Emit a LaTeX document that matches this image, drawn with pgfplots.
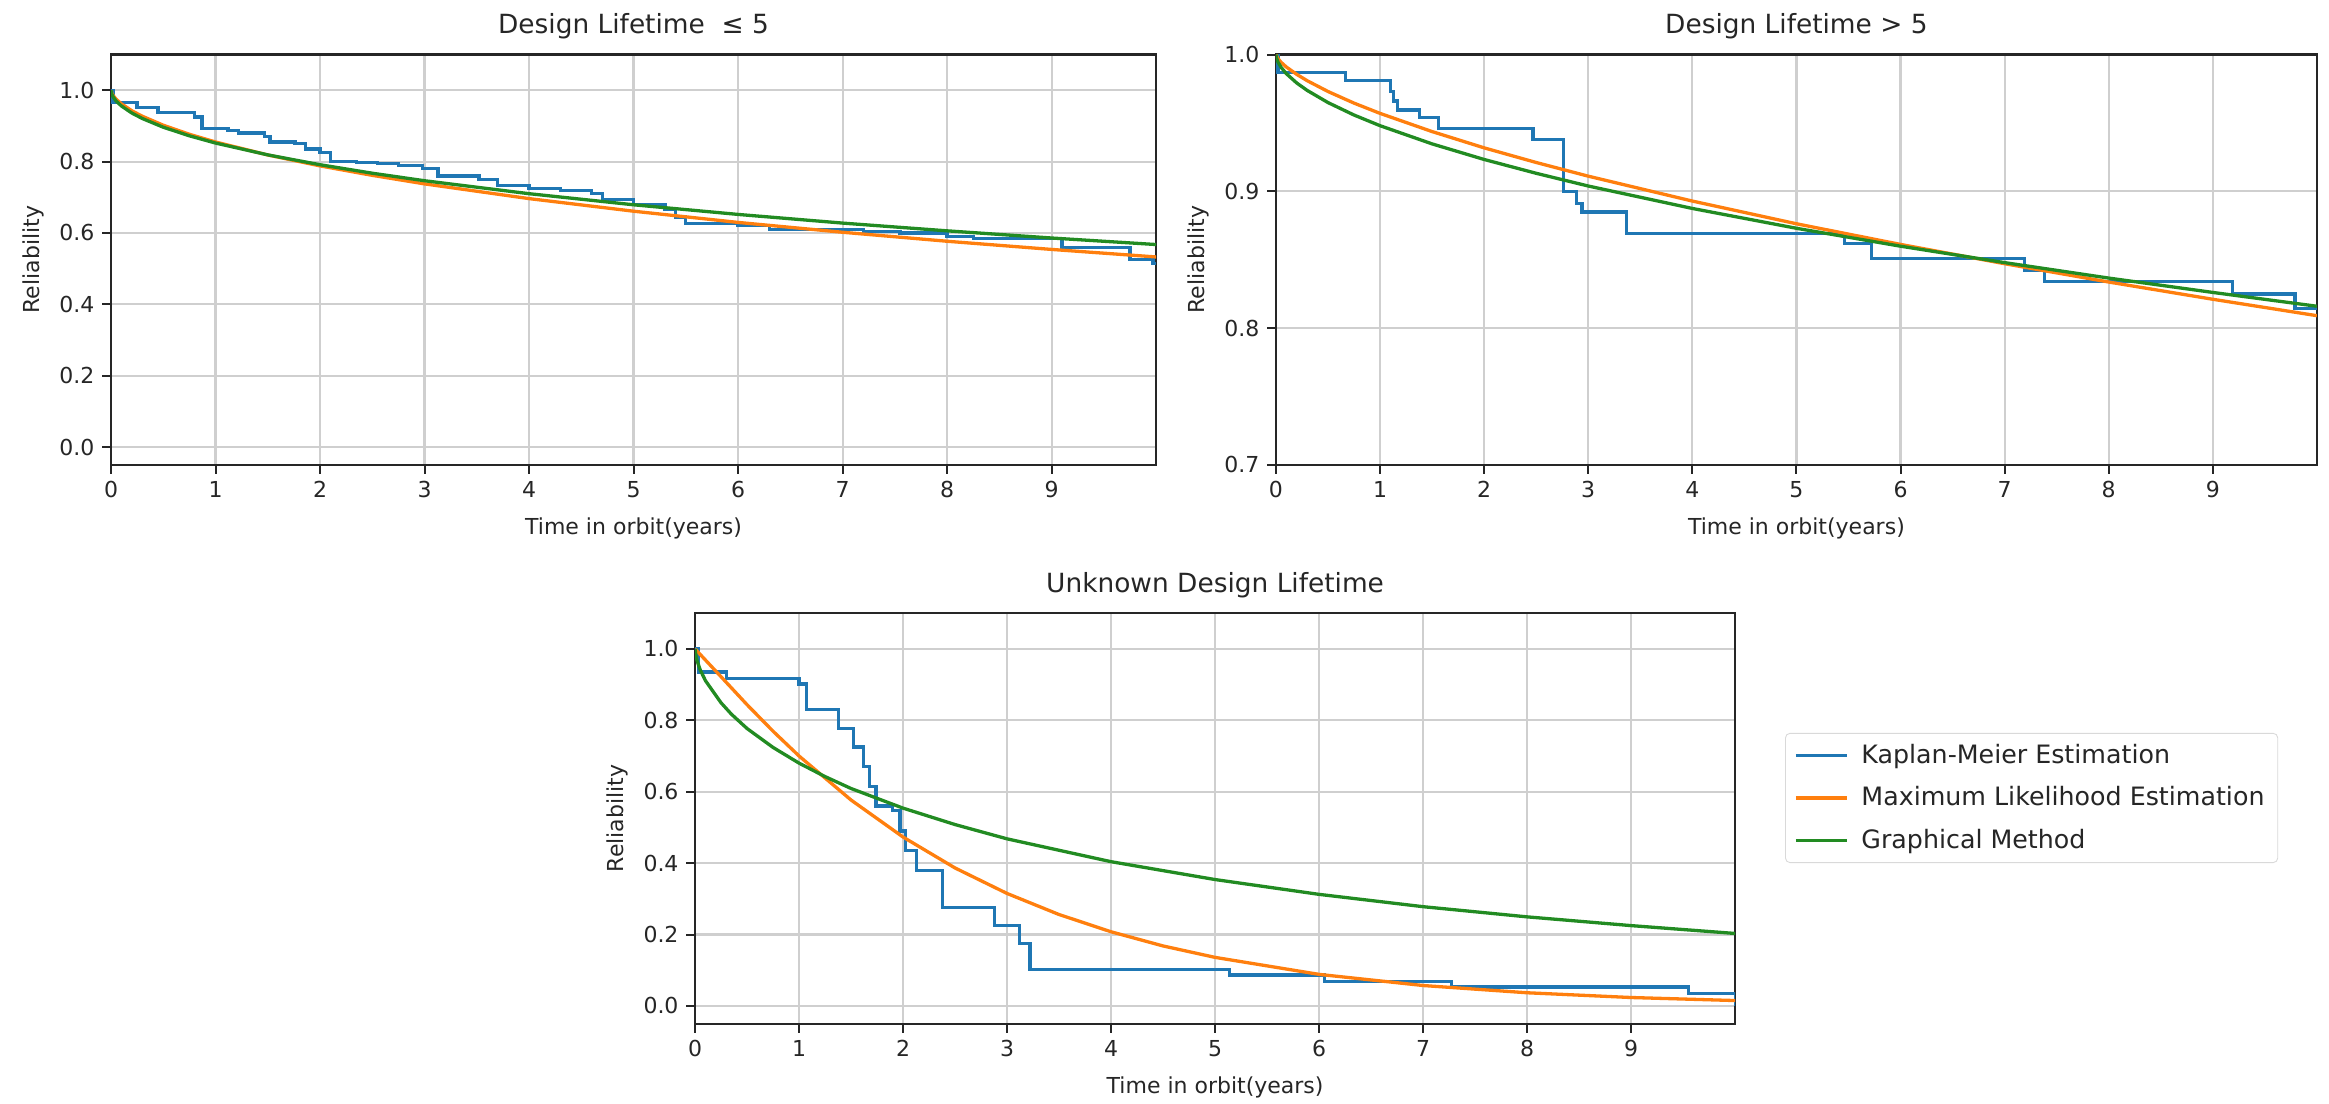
\documentclass[border=0pt]{standalone}
\usepackage{fontspec}
\setmainfont{DejaVu Sans}
\usepackage{pgfplots}
\pgfplotsset{compat=1.18}

\definecolor{kmblue}{HTML}{1F77B4}
\definecolor{mleorange}{HTML}{FF7F0E}
\definecolor{gmgreen}{HTML}{228B22}
\definecolor{gridgray}{HTML}{CFCFCF}

\pgfplotsset{
  relplot/.style={
    scale only axis,
    xmin=0, xmax=10,
    xtick={0,...,9},
    grid=major,
    grid style={gridgray, line width=1pt},
    axis line style={black!85, line width=1pt},
    tick align=outside,
    tick pos=left,
    major tick length=4pt,
    tick style={black!85, line width=0.9pt},
    tick label style={font=\fontsize{10}{12}\selectfont, black!85},
    label style={font=\fontsize{10}{12}\selectfont, black!85},
    xlabel style={yshift=-2pt},
    title style={font=\fontsize{12}{14}\selectfont, black!85, yshift=-2.5pt},
    xlabel={Time in orbit(years)},
    ylabel={Reliability},
    /pgf/number format/assume math mode=true,
    yticklabel style={/pgf/number format/.cd, fixed, fixed zerofill, precision=1},
    every axis plot/.append style={line width=1.5pt},
  },
}

\begin{document}
\begin{tikzpicture}
\path[use as bounding box] (0pt,0pt) rectangle (1058.5pt,501.3pt);

% design lifetime <= 5
\begin{axis}[relplot,
    at={(50.45pt,290pt)}, anchor=south west,
    width=475pt, height=186.5pt,
    ymin=-0.05, ymax=1.1,
    ytick={0,0.2,0.4,0.6,0.8,1.0},
    title={Design Lifetime\ \ ≤ 5}]
\addplot[kmblue, const plot] coordinates {
(0,1.0)(0.02,0.965)(0.25,0.952)(0.45,0.937)(0.8,0.925)(0.87,0.893)(1.12,0.888)
(1.22,0.88)(1.47,0.87)(1.52,0.855)(1.76,0.85)(1.86,0.835)(2.0,0.825)(2.1,0.80)
(2.35,0.797)(2.55,0.795)(2.75,0.79)(2.98,0.78)(3.13,0.76)(3.52,0.75)(3.7,0.733)
(4.0,0.724)(4.3,0.72)(4.6,0.71)(4.7,0.694)(5.0,0.68)(5.3,0.665)(5.4,0.645)
(5.5,0.627)(6.0,0.62)(6.3,0.61)(7.2,0.605)(7.55,0.60)(8.0,0.59)(8.25,0.584)
(9.1,0.56)(9.75,0.526)(9.97,0.515)(10,0.515)};
\addplot[mleorange] coordinates {
(0,1.0)(0.01,0.9903)(0.02,0.9854)(0.05,0.9747)(0.1,0.9618)(0.2,0.9424)(0.3,0.9271)
(0.5,0.902)(0.75,0.8766)(1,0.855)(1.5,0.8186)(2,0.788)(2.5,0.7615)(3,0.7376)
(4,0.6963)(5,0.661)(6,0.6296)(7,0.602)(8,0.5768)(9,0.5539)(10,0.5328)};
\addplot[gmgreen] coordinates {
(0,1.0)(0.005,0.9913)(0.01,0.9873)(0.02,0.9815)(0.05,0.9696)(0.1,0.9558)(0.2,0.936)
(0.3,0.9207)(0.5,0.8964)(0.75,0.8723)(1,0.852)(1.5,0.8189)(2,0.7913)(2.5,0.7675)
(3,0.7464)(4,0.7101)(5,0.679)(6,0.652)(7,0.6277)(8,0.606)(9,0.5859)(10,0.5676)};
\end{axis}

% design lifetime > 5
\begin{axis}[relplot,
    at={(579.9pt,290pt)}, anchor=south west,
    width=473.1pt, height=186.5pt,
    ymin=0.7, ymax=1.0,
    ytick={0.7,0.8,0.9,1.0},
    title={Design Lifetime > 5}]
\addplot[kmblue, const plot] coordinates {
(0,1.0)(0.02,0.987)(0.67,0.981)(1.10,0.973)(1.13,0.966)(1.17,0.9595)(1.38,0.954)
(1.56,0.946)(2.47,0.938)(2.76,0.900)(2.89,0.891)(2.94,0.885)(3.37,0.869)
(5.46,0.862)(5.72,0.851)(7.19,0.842)(7.38,0.834)(9.19,0.825)(9.79,0.8146)(10,0.8146)};
\addplot[mleorange] coordinates {
(0,1.0)(0.02,0.997)(0.05,0.9943)(0.1,0.9909)(0.2,0.9855)(0.3,0.9809)(0.5,0.973)
(0.75,0.9645)(1,0.957)(1.5,0.9437)(2,0.9318)(2.5,0.9211)(3,0.9111)(4,0.8929)
(5,0.8763)(6,0.8612)(7,0.8471)(8,0.8337)(9,0.8211)(10,0.8091)};
\addplot[gmgreen] coordinates {
(0,1.0)(0.005,0.9975)(0.02,0.9945)(0.05,0.9906)(0.1,0.986)(0.2,0.9792)(0.3,0.9738)
(0.5,0.9649)(0.75,0.9558)(1,0.948)(1.5,0.9347)(2,0.9233)(2.5,0.9132)(3,0.9039)
(4,0.8875)(5,0.873)(6,0.8599)(7,0.8479)(8,0.8366)(9,0.8261)(10,0.816)};
\end{axis}

% unknown design lifetime
\begin{axis}[relplot,
    at={(315.9pt,36pt)}, anchor=south west,
    width=472.7pt, height=186.6pt,
    ymin=-0.05, ymax=1.1,
    ytick={0,0.2,0.4,0.6,0.8,1.0},
    title={Unknown Design Lifetime},
    legend cell align=left,
    legend style={at={(1.048,0.55)}, anchor=west, draw=black!15,
      rounded corners=2pt, font=\fontsize{11.5}{13}\selectfont,
      inner xsep=4pt, inner ysep=3pt, row sep=5pt, column sep=4pt,
      text=black!85},
    legend image code/.code={\draw[#1] (0pt,0pt) -- (23pt,0pt);}]
\addplot[kmblue, const plot] coordinates {
(0,1.0)(0.03,0.935)(0.3,0.918)(1.0,0.902)(1.07,0.83)(1.38,0.778)(1.52,0.725)
(1.62,0.67)(1.68,0.615)(1.74,0.56)(1.9,0.548)(1.97,0.49)(2.02,0.435)(2.13,0.38)
(2.38,0.275)(2.88,0.225)(3.12,0.175)(3.22,0.103)(5.14,0.087)(6.05,0.068)
(7.27,0.053)(9.55,0.035)(10,0.0)};
\addlegendentry{Kaplan-Meier Estimation}
\addplot[mleorange] coordinates {
(0,1.0)(0.25,0.922)(0.5,0.8437)(0.75,0.7694)(1,0.70)(1.5,0.5767)(2,0.473)
(2.5,0.3864)(3,0.315)(3.5,0.256)(4,0.2077)(4.5,0.168)(5,0.136)(6,0.0884)
(7,0.0572)(8,0.0369)(9,0.0236)(10,0.0151)};
\addlegendentry{Maximum Likelihood Estimation}
\addplot[gmgreen] coordinates {
(0,1.0)(0.01,0.9776)(0.02,0.966)(0.05,0.941)(0.1,0.911)(0.25,0.849)(0.35,0.817)
(0.5,0.777)(0.75,0.724)(1,0.68)(1.25,0.6424)(1.5,0.609)(2,0.554)(2.5,0.508)
(3,0.468)(4,0.404)(5,0.354)(6,0.3125)(7,0.278)(8,0.2495)(9,0.225)(10,0.203)};
\addlegendentry{Graphical Method}
\end{axis}
\end{tikzpicture}
\end{document}
